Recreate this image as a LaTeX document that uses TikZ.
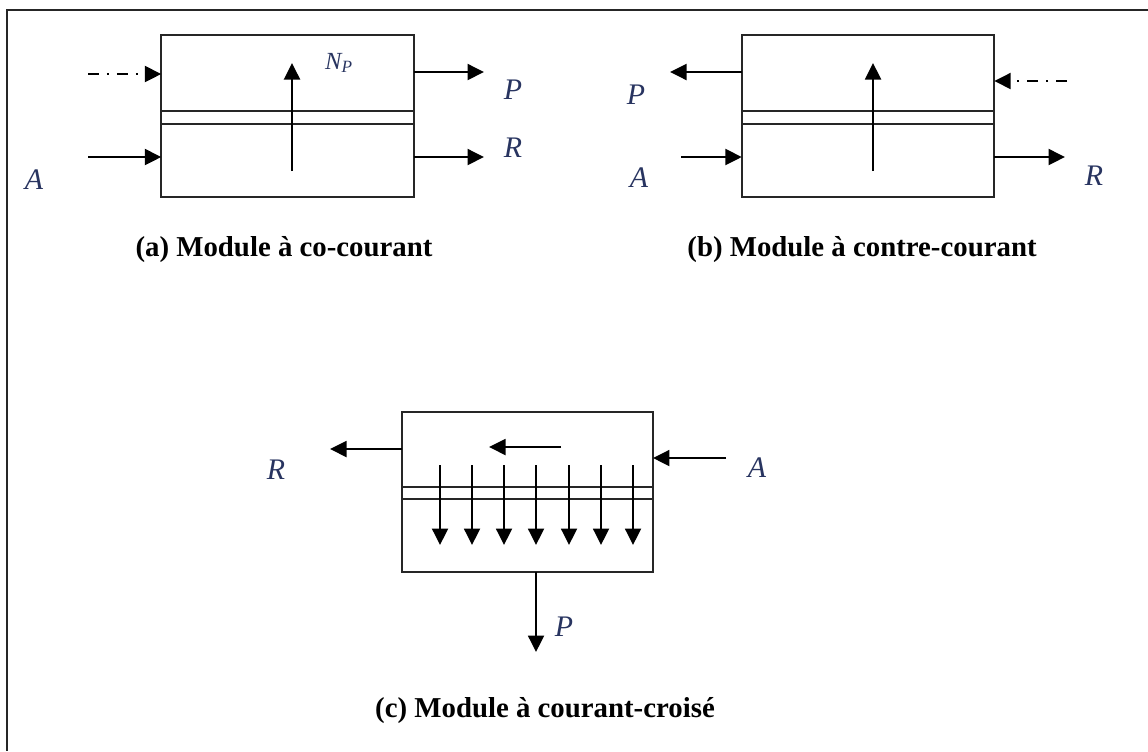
\documentclass[tikz,border=0pt]{standalone}
\usepackage{fontspec}
\setmainfont{Liberation Serif}
\usetikzlibrary{arrows.meta}
\definecolor{labelblue}{RGB}{40,52,96}

\begin{document}
\begin{tikzpicture}[x=0.02cm, y=-0.02cm]
        \tikzstyle{module} = [rectangle, draw=black!85, line width=1pt, inner sep=0pt, outer sep=0pt, minimum width=5.05cm, minimum height=3.24cm]
        \tikzstyle{flow} = [-{Triangle[length=0.33cm, width=0.32cm]}, line width=1.1pt]
        \tikzstyle{sweep} = [flow, dash pattern=on 0.22cm off 0.16cm on 0.04cm off 0.16cm]
        \tikzstyle{membrane} = [draw=black!85, line width=0.9pt]
        \tikzstyle{lbl} = [text=labelblue, font=\fontsize{17}{19}\selectfont\itshape, inner sep=0pt]
        \tikzstyle{caption} = [font=\fontsize{16.4}{19}\selectfont\bfseries, inner sep=0pt]

\useasboundingbox (0,0) rectangle (1148,751);
        \draw[black!85, line width=0.9pt] (1148,10) -- (7,10) -- (7,751);

% (a) co-courant
        \node[module] (boxa) at (287.5,116) {};
        \coordinate (aMem1) at (161,111);
        \coordinate (aMem2) at (161,124);
        \draw[membrane] (aMem1) -- (aMem1 -| boxa.east);
        \draw[membrane] (aMem2) -- (aMem2 -| boxa.east);
        \coordinate (aSweep) at (88,74);
        \coordinate (aFeed) at (88,157);
        \coordinate (aPerm) at (484,72);
        \coordinate (aRet) at (484,157);
        \coordinate (aFluxS) at (292,171);
        \coordinate (aFluxE) at (292,63);
        \draw[sweep] (aSweep) -- (aSweep -| boxa.west);
        \draw[flow] (aFeed) -- (aFeed -| boxa.west);
        \draw[flow] (aPerm -| boxa.east) -- (aPerm);
        \draw[flow] (aRet -| boxa.east) -- (aRet);
        \draw[flow] (aFluxS) -- (aFluxE);
        \node[lbl] (aLabA) at (34,180) {A};
        \node[lbl] (aLabP) at (513,90) {P};
        \node[lbl] (aLabR) at (513,148) {R};
        \node[lbl, font=\fontsize{14}{16}\selectfont\itshape] (aLabN) at (339,63) {N\textsubscript{P}};
        \node[caption] (capA) at (284,250) {(a) Module à co-courant};

% (b) contre-courant
        \node[module] (boxb) at (868,116) {};
        \coordinate (bMem1) at (742,111);
        \coordinate (bMem2) at (742,124);
        \draw[membrane] (bMem1) -- (bMem1 -| boxb.east);
        \draw[membrane] (bMem2) -- (bMem2 -| boxb.east);
        \coordinate (bSweep) at (1067,81);
        \coordinate (bFeed) at (681,157);
        \coordinate (bPerm) at (670,72);
        \coordinate (bRet) at (1065,157);
        \coordinate (bFluxS) at (873,171);
        \coordinate (bFluxE) at (873,63);
        \draw[sweep] (bSweep) -- (bSweep -| boxb.east);
        \draw[flow] (bFeed) -- (bFeed -| boxb.west);
        \draw[flow] (bPerm -| boxb.west) -- (bPerm);
        \draw[flow] (bRet -| boxb.east) -- (bRet);
        \draw[flow] (bFluxS) -- (bFluxE);
        \node[lbl] (bLabP) at (636,95) {P};
        \node[lbl] (bLabA) at (639,178) {A};
        \node[lbl] (bLabR) at (1094,176) {R};
        \node[caption] (capB) at (862,250) {(b) Module à contre-courant};

% (c) courant-croise
        \node[module, minimum width=5.02cm, minimum height=3.2cm] (boxc) at (527.5,492) {};
        \coordinate (cMem1) at (402,487);
        \coordinate (cMem2) at (402,499);
        \draw[membrane] (cMem1) -- (cMem1 -| boxc.east);
        \draw[membrane] (cMem2) -- (cMem2 -| boxc.east);
        \coordinate (cFeed) at (726,458);
        \coordinate (cRet) at (330,449);
        \coordinate (cPerm) at (536,652);
        \coordinate (cInS) at (561,447);
        \coordinate (cInE) at (489,447);
        \draw[flow] (cFeed) -- (cFeed -| boxc.east);
        \draw[flow] (cRet -| boxc.west) -- (cRet);
        \draw[flow] (cPerm |- boxc.south) -- (cPerm);
        \draw[flow] (cInS) -- (cInE);
        \foreach \x in {440,472,504,536,569,601,633}
            \draw[flow] (\x,465) -- (\x,545);
        \node[lbl] (cLabR) at (276,470) {R};
        \node[lbl] (cLabA) at (757,468) {A};
        \node[lbl] (cLabP) at (564,627) {P};
        \node[caption] (capC) at (545,711) {(c) Module à courant-croisé};

    \end{tikzpicture}
\end{document}
